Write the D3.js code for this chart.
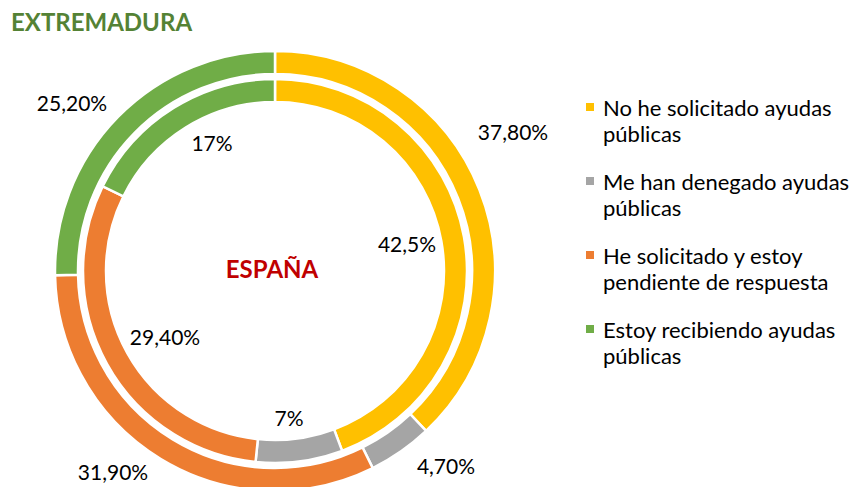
<!DOCTYPE html>
<html>
<head>
<meta charset="utf-8">
<script src="https://cdn.jsdelivr.net/npm/d3@7"></script>
<style>
  body { margin: 0; background: #fff; }
  text { font-family: Lato, "Noto Sans", sans-serif; }
</style>
</head>
<body>
<svg id="chart" width="856" height="487"></svg>
<script>
const categories = [
  "No he solicitado ayudas públicas",
  "Me han denegado ayudas públicas",
  "He solicitado y estoy pendiente de respuesta",
  "Estoy recibiendo ayudas públicas"
];
const legendLines = [
  ["No he solicitado ayudas", "públicas"],
  ["Me han denegado ayudas", "públicas"],
  ["He solicitado y estoy", "pendiente de respuesta"],
  ["Estoy recibiendo ayudas", "públicas"]
];
const extremadura = [37.8, 4.7, 31.9, 25.2];
const extremaduraLabels = ["37,80%", "4,70%", "31,90%", "25,20%"];
const espana = [42.5, 7, 29.4, 17];
const espanaLabels = ["42,5%", "7%", "29,40%", "17%"];
const colors = ["#FFC000", "#A5A5A5", "#ED7D31", "#70AD47"];

// label placement (manual, as in the original sheet)
const outerLabelPos = [[513, 131], [446, 465], [113, 471], [72, 102]];
const innerLabelPos = [[407, 243], [289, 417], [165, 336], [212, 142]];

const cx = 275, cy = 271;
const svg = d3.select("#chart");

const pie = d3.pie().sort(null).value(d => d);
const outerArc = d3.arc().innerRadius(197).outerRadius(220);
const innerArc = d3.arc().innerRadius(169).outerRadius(192);

const g = svg.append("g").attr("transform", `translate(${cx},${cy})`);

g.selectAll(".outer")
  .data(pie(extremadura))
  .enter().append("path")
  .attr("class", "outer")
  .attr("d", outerArc)
  .attr("fill", (d, i) => colors[i])
  .attr("stroke", "#fff")
  .attr("stroke-width", 2.5);

g.selectAll(".inner")
  .data(pie(espana))
  .enter().append("path")
  .attr("class", "inner")
  .attr("d", innerArc)
  .attr("fill", (d, i) => colors[i])
  .attr("stroke", "#fff")
  .attr("stroke-width", 2.5);

svg.selectAll(".outer-label")
  .data(extremaduraLabels)
  .enter().append("text")
  .attr("x", (d, i) => outerLabelPos[i][0])
  .attr("y", (d, i) => outerLabelPos[i][1])
  .attr("text-anchor", "middle")
  .attr("dominant-baseline", "central")
  .style("font-size", "21px")
  .attr("fill", "#000")
  .text(d => d);

svg.selectAll(".inner-label")
  .data(espanaLabels)
  .enter().append("text")
  .attr("x", (d, i) => innerLabelPos[i][0])
  .attr("y", (d, i) => innerLabelPos[i][1])
  .attr("text-anchor", "middle")
  .attr("dominant-baseline", "central")
  .style("font-size", "21px")
  .attr("fill", "#000")
  .text(d => d);

// titles
svg.append("text")
  .attr("x", 11)
  .attr("y", 31)
  .style("font-size", "24px")
  .style("font-weight", "bold")
  .attr("fill", "#548235")
  .text("EXTREMADURA");

svg.append("text")
  .attr("x", 272)
  .attr("y", 268)
  .attr("text-anchor", "middle")
  .attr("dominant-baseline", "central")
  .style("font-size", "24px")
  .style("font-weight", "bold")
  .attr("fill", "#C00000")
  .text("ESPAÑA");

// legend
const legend = svg.append("g").attr("transform", "translate(586,107)");
const item = legend.selectAll(".item")
  .data(legendLines)
  .enter().append("g")
  .attr("class", "item")
  .attr("transform", (d, i) => `translate(0,${i * 74})`);

item.append("rect")
  .attr("x", 0)
  .attr("y", -4)
  .attr("width", 8)
  .attr("height", 8)
  .attr("fill", (d, i) => colors[i]);

item.selectAll("text")
  .data(d => d)
  .enter().append("text")
  .attr("x", 17)
  .attr("y", (d, j) => j * 26)
  .attr("dominant-baseline", "central")
  .style("font-size", "22px")
  .attr("fill", "#000")
  .text(d => d);
</script>
</body>
</html>
